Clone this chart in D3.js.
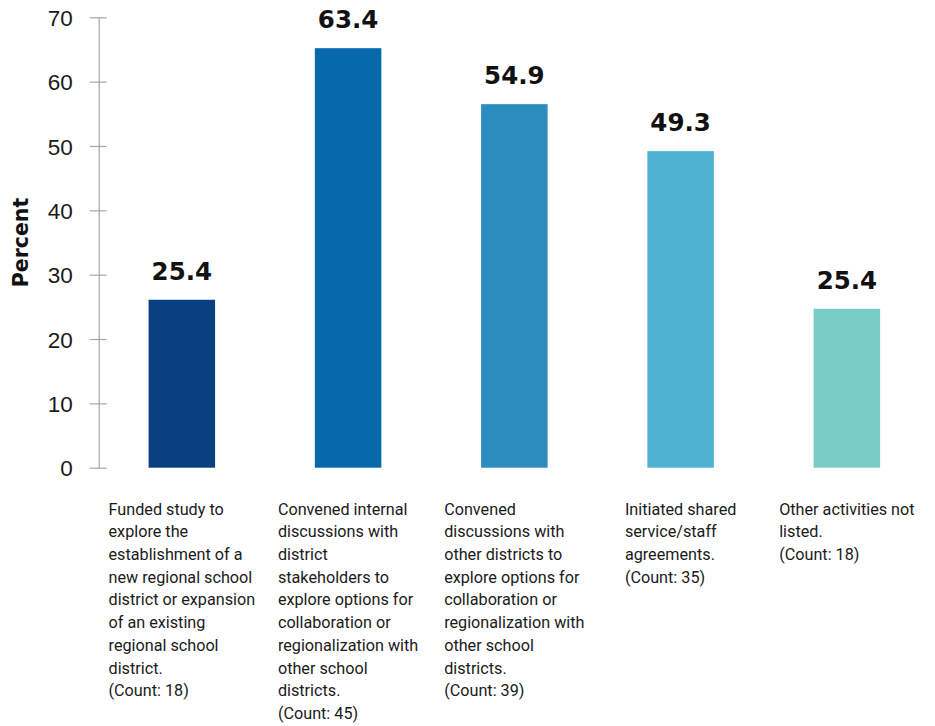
<!DOCTYPE html>
<html>
<head>
<meta charset="utf-8">
<script src="https://cdn.jsdelivr.net/npm/d3@7"></script>
<style>
    body { margin: 0; background: #fff; }
    .tick-label { font-family: "Liberation Sans", Arial, sans-serif; font-size: 22.5px; fill: #1a1a1a; }
    .value-label { font-family: "DejaVu Sans", sans-serif; font-weight: bold; font-size: 24.5px; fill: #111; }
    .axis-title { font-family: "DejaVu Sans", sans-serif; font-weight: bold; font-size: 20.5px; fill: #111; }
    .cat-label { font-family: Roboto, sans-serif; font-size: 16.2px; fill: #1a1a1a; }
</style>
</head>
<body>
<div id="chart"></div>
<script>
// Categories, one array of lines per bar
var categories = [
    ["Funded study to", "explore the", "establishment of a", "new regional school", "district or expansion", "of an existing", "regional school", "district.", "(Count: 18)"],
    ["Convened internal", "discussions with", "district", "stakeholders to", "explore options for", "collaboration or", "regionalization with", "other school", "districts.", "(Count: 45)"],
    ["Convened", "discussions with", "other districts to", "explore options for", "collaboration or", "regionalization with", "other school", "districts.", "(Count: 39)"],
    ["Initiated shared", "service/staff", "agreements.", "(Count: 35)"],
    ["Other activities not", "listed.", "(Count: 18)"]
];

// Bar heights as drawn in the picture
var barValues = [26.1, 65.2, 56.5, 49.2, 24.7];

// Printed data labels
var valueLabels = ["25.4", "63.4", "54.9", "49.3", "25.4"];

// Bar colours
var colors = ["#084081", "#0868ac", "#2b8cbe", "#4eb3d3", "#7bccc4"];

// Y axis ticks
var yTicks = [0, 10, 20, 30, 40, 50, 60, 70];

var svgWidth = 935;
var svgHeight = 726;

var margin = { top: 17.3, right: 5, bottom: 258.3, left: 98.7 };
var width = svgWidth - margin.left - margin.right;
var height = svgHeight - margin.top - margin.bottom;

var svg = d3.select("#chart")
    .append("svg")
    .attr("width", svgWidth)
    .attr("height", svgHeight);

var chartGroup = svg.append("g")
    .attr("transform", `translate(${margin.left}, ${margin.top})`);

var xScale = d3.scaleBand()
    .domain(d3.range(categories.length))
    .range([0, width])
    .paddingInner(0.6)
    .paddingOuter(0.3);

var yScale = d3.scaleLinear()
    .domain([0, 70])
    .range([height, 0]);

// Y axis with ticks crossing the line
var yAxis = d3.axisLeft(yScale)
    .tickValues(yTicks)
    .tickSizeInner(-8)
    .tickSizeOuter(0)
    .tickPadding(26);

var yAxisGroup = chartGroup.append("g").call(yAxis);
yAxisGroup.attr("font-family", null).attr("font-size", null);
yAxisGroup.select(".domain").attr("stroke", "#a6a6a6").attr("stroke-width", 1.2);
yAxisGroup.selectAll(".tick line")
    .attr("x1", -9)
    .attr("x2", 8)
    .attr("stroke", "#a6a6a6")
    .attr("stroke-width", 1.2);
yAxisGroup.selectAll(".tick text")
    .attr("class", "tick-label")
    .attr("x", -26)
    .attr("dy", "0.36em");

// Bars
chartGroup.selectAll("rect.bar")
    .data(barValues)
    .enter()
    .append("rect")
    .attr("class", "bar")
    .attr("x", (d, i) => xScale(i))
    .attr("y", d => yScale(d))
    .attr("width", xScale.bandwidth())
    .attr("height", d => height - yScale(d))
    .attr("fill", (d, i) => colors[i]);

// Value labels above bars
chartGroup.selectAll("text.value-label")
    .data(barValues)
    .enter()
    .append("text")
    .attr("class", "value-label")
    .attr("text-anchor", "middle")
    .attr("x", (d, i) => xScale(i) + xScale.bandwidth() / 2)
    .attr("y", d => yScale(d) - 20)
    .text((d, i) => valueLabels[i]);

// Category labels, left aligned block centred under each bar
var catGroups = chartGroup.selectAll("g.cat")
    .data(categories)
    .enter()
    .append("g")
    .attr("class", "cat");

catGroups.each(function(lines, i) {
    var g = d3.select(this);
    var text = g.append("text").attr("class", "cat-label");
    text.selectAll("tspan")
        .data(lines)
        .enter()
        .append("tspan")
        .attr("x", 0)
        .attr("y", (d, j) => j * 22.7)
        .text(d => d);
    var w = text.node().getBBox().width;
    var cx = xScale(i) + xScale.bandwidth() / 2;
    g.attr("transform", `translate(${cx - w / 2}, ${height + 47})`);
});

// Axis title
chartGroup.append("text")
    .attr("class", "axis-title")
    .attr("transform", "rotate(-90)")
    .attr("x", -yScale(35))
    .attr("y", -margin.left + 28)
    .attr("text-anchor", "middle")
    .text("Percent");
</script>
</body>
</html>
